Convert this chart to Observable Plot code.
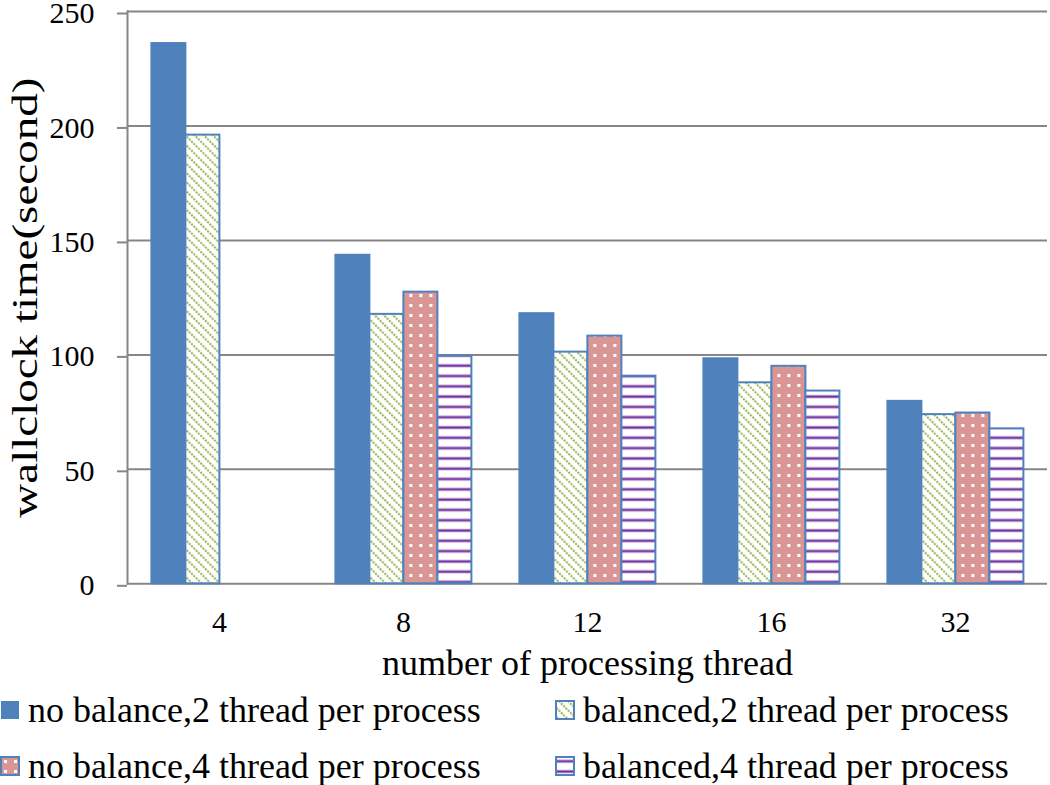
<!DOCTYPE html>
<html>
<head>
<meta charset="utf-8">
<script src="https://cdn.jsdelivr.net/npm/d3@7"></script>
<script src="https://cdn.jsdelivr.net/npm/@observablehq/plot@0.6"></script>
<style>
  body { margin: 0; background: #fff; font-family: "Liberation Serif", "DejaVu Serif", serif; }
  #wrap { position: relative; width: 1050px; height: 785px; overflow: hidden; }
  #legend { position: absolute; left: 0; top: 690px; width: 1050px; height: 95px; }
  .item { position: absolute; display: flex; align-items: center; font-family: "Liberation Serif", "DejaVu Serif", serif; font-size: 36px; line-height: 1; color: #000; white-space: nowrap; }
  .item svg { margin-right: 8px; flex: none; }
  #chart svg, #chart svg text { font-family: "Liberation Serif", "DejaVu Serif", serif !important; }
  svg [aria-label="fx-axis label"] text, svg [aria-label="y-axis label"] text { font-size: 36px; }
</style>
</head>
<body>
<svg width="0" height="0" style="position:absolute">
  <defs>
    <pattern id="pat-green" width="6.5" height="6.5" patternUnits="userSpaceOnUse" patternTransform="rotate(-45)">
      <rect width="6.5" height="6.5" fill="#ffffff"/>
      <line x1="2" y1="0" x2="2" y2="6.5" stroke="#92B54E" stroke-width="2" stroke-dasharray="2 1.25"/>
    </pattern>
    <pattern id="pat-red" width="10" height="10" patternUnits="userSpaceOnUse">
      <rect width="10" height="10" fill="#D99694"/>
      <rect x="4" y="4" width="3" height="3" fill="#ffffff"/>
    </pattern>
    <pattern id="pat-purple" width="10" height="10.3" patternUnits="userSpaceOnUse">
      <rect width="10" height="10.3" fill="#ffffff"/>
      <rect x="0" y="4" width="10" height="2.4" fill="#7030A0"/>
      <rect x="0" y="3.4" width="10" height="0.6" fill="#c9b3dc"/>
      <rect x="0" y="6.4" width="10" height="0.6" fill="#c9b3dc"/>
    </pattern>
  </defs>
</svg>
<div id="wrap">
  <div id="chart"></div>
  <div id="legend"></div>
</div>
<script>
// ---- data ----
const groups = ["4", "8", "12", "16", "32"];
const seriesNames = [
  "no balance,2 thread per process",
  "balanced,2 thread per process",
  "no balance,4 thread per process",
  "balanced,4 thread per process"
];
const noBalance2 = [236, 143.5, 118, 98.3, 79.7];
const balanced2  = [196, 117.7, 101.2, 87.8, 73.9];
const noBalance4 = [null, 127.4, 108.2, 95.0, 74.6];
const balanced4  = [null, 99.5, 90.7, 84.2, 67.7];
const yTicks = [0, 50, 100, 150, 200, 250];
const xLabel = "number of processing thread";
const yLabel = "wallclock time(second)";

// ---- styles ----
const fills = ["#4F81BD", "url(#pat-green)", "url(#pat-red)", "url(#pat-purple)"];
const edge = "#4F81BD";
const gridColor = "#868686";

const seriesValues = [noBalance2, balanced2, noBalance4, balanced4];
const data = [];
groups.forEach((g, i) => {
  seriesNames.forEach((s, j) => {
    const v = seriesValues[j][i];
    if (v != null) data.push({group: g, series: s, value: v});
  });
});

const chart = Plot.plot({
  width: 1050,
  height: 690,
  marginTop: 11,
  marginLeft: 125.6,
  marginRight: 2,
  marginBottom: 106.7,
  style: {fontFamily: "'Liberation Serif', 'DejaVu Serif', serif", fontSize: "30px", color: "#000", background: "#fff", overflow: "visible"},
  fx: {domain: groups, paddingInner: 0, paddingOuter: 0},
  x: {domain: seriesNames, paddingInner: 0, paddingOuter: 0.667, axis: null},
  y: {domain: [0, 250]},
  color: {domain: seriesNames, range: fills},
  marks: [
    Plot.gridY(yTicks, {stroke: gridColor, strokeOpacity: 1, strokeWidth: 2}),
    Plot.axisY(yTicks, {tickSize: 10, tickPadding: 23, stroke: gridColor, strokeWidth: 2, fontSize: 30, dy: 2,
      label: yLabel, labelAnchor: "center", labelArrow: "none", labelOffset: 116}),
    Plot.axisFx({anchor: "bottom", tickSize: 0, tickPadding: 27, fontSize: 30,
      label: xLabel, labelAnchor: "center", labelArrow: "none", labelOffset: 91}),
    Plot.barY(data, {fx: "group", x: "series", y: "value", fill: "series", stroke: edge, strokeWidth: 2}),
    Plot.frame({anchor: "left", facetAnchor: "left", stroke: gridColor, strokeWidth: 2})
  ]
});
document.getElementById("chart").appendChild(chart);

// stretch the y-axis title along its direction, as in the reference
const yl = chart.querySelector('[aria-label="y-axis label"] text');
if (yl) {
  yl.setAttribute("textLength", "440");
  yl.setAttribute("lengthAdjust", "spacingAndGlyphs");
}

// ---- legend ----
const legend = document.getElementById("legend");
const pos = [[0, 0], [555, 0], [0, 56], [555, 56]];
seriesNames.forEach((s, j) => {
  const it = document.createElement("div");
  it.className = "item";
  it.style.left = pos[j][0] + "px";
  it.style.top = pos[j][1] + "px";
  it.style.height = "40px";
  it.innerHTML = `<svg width="20" height="20"><rect x="1" y="1" width="18" height="18" fill="${fills[j]}" stroke="${edge}" stroke-width="${j === 0 ? 0 : 2}"/></svg><span>${s}</span>`;
  legend.appendChild(it);
});
</script>
</body>
</html>
